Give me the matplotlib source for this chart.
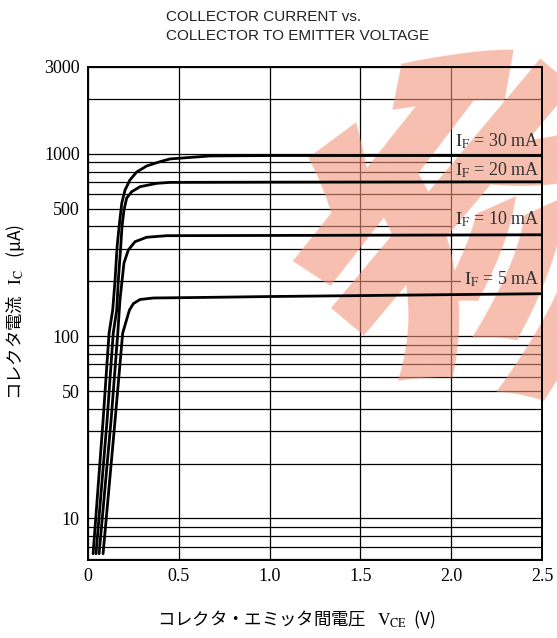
import numpy as np
import matplotlib
matplotlib.use("Agg")
import matplotlib.pyplot as plt

# curve data (V_CE in V, I_C in uA)
v_30 = [0.028, 0.083, 0.116, 0.136, 0.149, 0.160, 0.171, 0.186, 0.204, 0.231, 0.268,
        0.323, 0.397, 0.452, 0.672, 1.0, 1.5, 2.0, 2.5]
i_30 = [6.4, 34.5, 104, 139, 203, 308, 397, 538, 634, 720, 796,
        859, 907, 939, 975, 980, 980, 980, 980]
v_20 = [0.044, 0.105, 0.139, 0.158, 0.167, 0.180, 0.187, 0.198, 0.213, 0.241, 0.287,
        0.379, 0.452, 1.0, 1.5, 2.0, 2.5]
i_20 = [6.4, 34.5, 104, 139, 203, 308, 397, 492, 573, 621, 661,
        690, 698, 700, 701, 702, 703]
v_10 = [0.061, 0.127, 0.164, 0.176, 0.198, 0.222, 0.259, 0.323, 0.434, 1.0, 1.5, 2.0, 2.5]
i_10 = [6.4, 34.5, 104, 158, 252, 297, 330, 349, 356, 357, 358, 359, 360]
v_5 = [0.083, 0.149, 0.191, 0.228, 0.250, 0.287, 0.360, 0.6, 1.0, 1.5, 2.0, 2.5]
i_5 = [6.4, 34.5, 104, 139, 151, 159, 162, 163, 165, 167, 169, 171]

curve_labels = ["30 mA", "20 mA", "10 mA", "5 mA"]

y_major = [10, 50, 100, 500, 1000, 3000]
y_minor = [6, 7, 8, 9, 20, 30, 40, 60, 70, 80, 90, 200, 300, 400, 600, 700, 800, 900, 2000]
x_ticks = [0, 0.5, 1.0, 1.5, 2.0, 2.5]
x_ticklabels = ["0", "0.5", "1.0", "1.5", "2.0", "2.5"]

plt.rcParams["mathtext.fontset"] = "stix"
serif = ["Liberation Serif", "DejaVu Serif"]
jp = ["Noto Sans CJK JP", "DejaVu Sans"]

fig = plt.figure(figsize=(5.57, 6.38), dpi=100)
ax = fig.add_axes([0.158, 0.122, 0.815, 0.773])

ax.set_yscale("log")
ax.set_xlim(0, 2.5)
ax.set_ylim(5.9, 3000)

ax.set_yticks(y_major)
ax.set_yticklabels([str(v) for v in y_major], fontfamily=serif, fontsize=13)
ax.set_yticks(y_minor, minor=True)
ax.set_yticklabels([], minor=True)
ax.set_xticks(x_ticks)
ax.set_xticklabels(x_ticklabels, fontfamily=serif, fontsize=13)
ax.tick_params(which="both", length=0, pad=6)

ax.grid(which="both", color="black", lw=0.9)
ax.set_axisbelow(True)
for s in ax.spines.values():
    s.set_linewidth(1.4)
    s.set_zorder(4)

# white patches behind the curve labels (they hide the grid, not the watermark)
label_y = [1180, 817, 440, 206]
for lab, yy in zip(curve_labels, label_y):
    ax.text(0.994, yy, r"$\mathrm{I_F}$ = " + lab, transform=ax.get_yaxis_transform(),
            ha="right", va="center", fontfamily=serif, fontsize=13, color="white",
            zorder=2, bbox=dict(facecolor="white", edgecolor="none", pad=1.5))

# salmon watermark
ax.text(0.895, 0.63, "参", transform=fig.transFigure, fontfamily=jp, fontweight="heavy",
        fontsize=255, color=(0.95, 0.58, 0.48), alpha=0.6, rotation=50,
        ha="center", va="center", zorder=3, clip_on=False)

for v, i in [(v_30, i_30), (v_20, i_20), (v_10, i_10), (v_5, i_5)]:
    ax.plot(v, i, color="black", lw=2.0, zorder=6, solid_capstyle="round")

for lab, yy in zip(curve_labels, label_y):
    ax.text(0.994, yy, r"$\mathrm{I_F}$ = " + lab, transform=ax.get_yaxis_transform(),
            ha="right", va="center", fontfamily=serif, fontsize=13, color="#333333",
            zorder=7)

fig.text(0.298, 0.984, "COLLECTOR CURRENT vs.\nCOLLECTOR TO EMITTER VOLTAGE",
         ha="left", va="top", fontfamily="Liberation Sans", fontsize=11, linespacing=1.45,
         color="#222222")

fig.text(0.027, 0.511, "コレクタ電流   $\\mathrm{I_C}$   (μA)", rotation=90,
         ha="center", va="center", fontfamily=jp, fontsize=12.5)
fig.text(0.532, 0.028, "コレクタ・エミッタ間電圧   $\\mathrm{V_{CE}}$  (V)",
         ha="center", va="center", fontfamily=jp, fontsize=12.5)

fig.savefig("out.png", dpi=100)
